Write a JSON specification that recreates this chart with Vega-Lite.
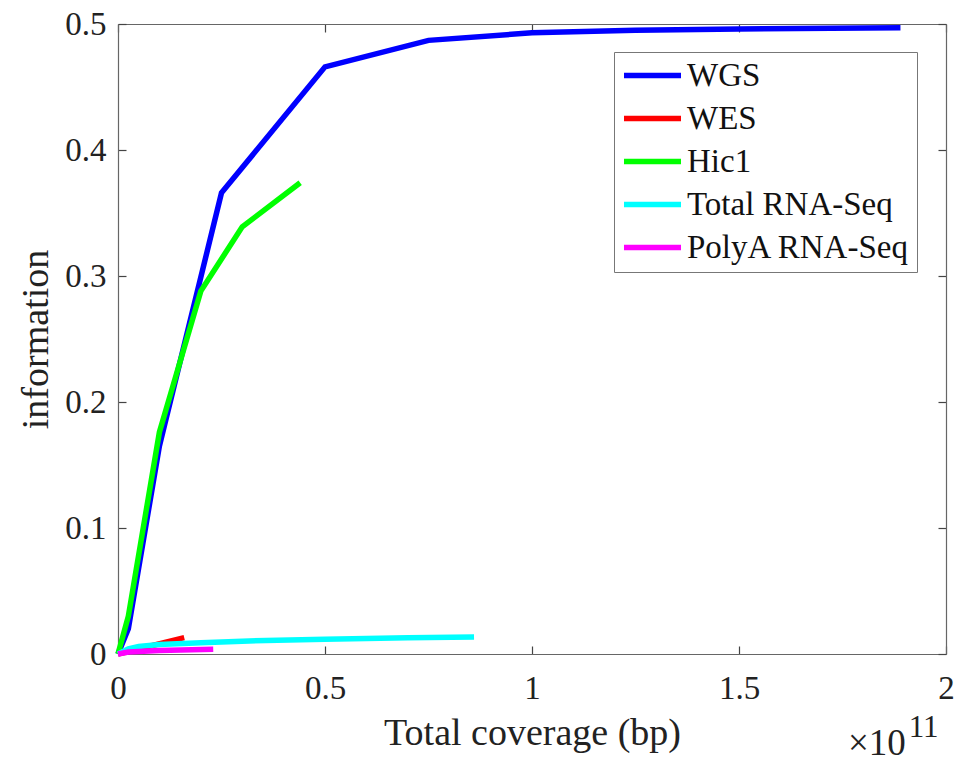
{
  "$schema": "https://vega.github.io/schema/vega-lite/v6.json",
  "width": 828,
  "height": 630,
  "autosize": "none",
  "padding": {"left": 118, "top": 24, "right": 11, "bottom": 109},
  "background": "white",
  "config": {
    "font": "Liberation Serif",
    "view": {"stroke": null},
    "axis": {
      "domainColor": "#666666",
      "domainWidth": 1.2,
      "tickColor": "#444444",
      "tickWidth": 1.2,
      "tickSize": -8,
      "grid": false,
      "labelFont": "Liberation Serif",
      "labelFontSize": 33,
      "labelColor": "#222222",
      "titleFont": "Liberation Serif",
      "titleFontSize": 38,
      "titleFontWeight": "normal",
      "titleColor": "#222222"
    }
  },
  "datasets": {
    "lines": [
      {"series": "WGS", "coverage": 0, "information": 0},
      {"series": "WGS", "coverage": 2500000000, "information": 0.02},
      {"series": "WGS", "coverage": 10000000000, "information": 0.165},
      {"series": "WGS", "coverage": 25000000000, "information": 0.366},
      {"series": "WGS", "coverage": 50000000000, "information": 0.466},
      {"series": "WGS", "coverage": 75000000000, "information": 0.487},
      {"series": "WGS", "coverage": 100000000000, "information": 0.493},
      {"series": "WGS", "coverage": 125000000000, "information": 0.495},
      {"series": "WGS", "coverage": 150000000000, "information": 0.496},
      {"series": "WGS", "coverage": 189000000000, "information": 0.497},
      {"series": "WES", "coverage": 0, "information": 0},
      {"series": "WES", "coverage": 16000000000, "information": 0.013},
      {"series": "Hic1", "coverage": 0, "information": 0},
      {"series": "Hic1", "coverage": 2500000000, "information": 0.03},
      {"series": "Hic1", "coverage": 10000000000, "information": 0.176},
      {"series": "Hic1", "coverage": 20000000000, "information": 0.288},
      {"series": "Hic1", "coverage": 30000000000, "information": 0.339},
      {"series": "Hic1", "coverage": 44000000000, "information": 0.374},
      {"series": "Total RNA-Seq", "coverage": 0, "information": 0},
      {"series": "Total RNA-Seq", "coverage": 2500000000, "information": 0.004},
      {"series": "Total RNA-Seq", "coverage": 5000000000, "information": 0.006},
      {"series": "Total RNA-Seq", "coverage": 10000000000, "information": 0.0075},
      {"series": "Total RNA-Seq", "coverage": 20000000000, "information": 0.009},
      {"series": "Total RNA-Seq", "coverage": 30000000000, "information": 0.0102},
      {"series": "Total RNA-Seq", "coverage": 50000000000, "information": 0.0118},
      {"series": "Total RNA-Seq", "coverage": 70000000000, "information": 0.0128},
      {"series": "Total RNA-Seq", "coverage": 86000000000, "information": 0.0135},
      {"series": "PolyA RNA-Seq", "coverage": 0, "information": 0},
      {"series": "PolyA RNA-Seq", "coverage": 2500000000, "information": 0.0015},
      {"series": "PolyA RNA-Seq", "coverage": 10000000000, "information": 0.0028},
      {"series": "PolyA RNA-Seq", "coverage": 23000000000, "information": 0.0038}
    ],
    "base": [
      {"coverage": 183300000000, "information": -0.0714, "label": "×10"}
    ],
    "exponent": [
      {"coverage": 194600000000, "information": -0.0585, "label": "11"}
    ]
  },
  "layer": [
    {
      "data": {"name": "lines"},
      "mark": {"type": "line", "strokeWidth": 5.5, "strokeCap": "butt", "strokeJoin": "miter"},
      "encoding": {
        "x": {
          "field": "coverage",
          "type": "quantitative",
          "scale": {"domain": [0, 200000000000], "nice": false, "zero": false},
          "axis": {
            "orient": "bottom",
            "title": "Total coverage (bp)",
            "values": [0, 50000000000, 100000000000, 150000000000, 200000000000],
            "labelExpr": "datum.value / 100000000000 + ''",
            "labelPadding": 26,
            "titlePadding": 9,
            "labelFlush": false
          }
        },
        "y": {
          "field": "information",
          "type": "quantitative",
          "scale": {"domain": [0, 0.5], "nice": false, "zero": false},
          "axis": {
            "orient": "left",
            "title": "information",
            "values": [0, 0.1, 0.2, 0.3, 0.4, 0.5],
            "format": "~g",
            "labelPadding": 20,
            "titlePadding": 9,
            "labelFlush": false
          }
        },
        "color": {
          "field": "series",
          "type": "nominal",
          "scale": {
            "domain": ["WGS", "WES", "Hic1", "Total RNA-Seq", "PolyA RNA-Seq"],
            "range": ["#0000ff", "#ff0000", "#00ff00", "#00ffff", "#ff00ff"]
          },
          "legend": {
            "title": null,
            "orient": "none",
            "legendX": 496,
            "legendY": 28,
            "strokeColor": "#777777",
            "fillColor": "white",
            "padding": 7,
            "symbolType": "stroke",
            "symbolStrokeWidth": 5.5,
            "symbolSize": 3249,
            "clipHeight": 33,
            "labelFont": "Liberation Serif",
            "labelFontSize": 33,
            "labelLimit": 400,
            "labelColor": "#111111",
            "labelOffset": 3,
            "rowPadding": 9
          }
        }
      }
    },
    {
      "data": {"name": "lines"},
      "mark": {"type": "line", "opacity": 0},
      "encoding": {
        "x": {
          "field": "coverage",
          "type": "quantitative",
          "scale": {"domain": [0, 200000000000], "nice": false, "zero": false},
          "axis": {"orient": "top", "title": null, "labels": false, "values": [0, 50000000000, 100000000000, 150000000000, 200000000000]}
        },
        "y": {
          "field": "information",
          "type": "quantitative",
          "scale": {"domain": [0, 0.5], "nice": false, "zero": false},
          "axis": {"orient": "right", "title": null, "labels": false, "values": [0, 0.1, 0.2, 0.3, 0.4, 0.5]}
        }
      }
    },
    {
      "data": {"name": "base"},
      "mark": {"type": "text", "font": "Liberation Serif", "fontSize": 37, "color": "#222222", "baseline": "middle", "align": "center"},
      "encoding": {
        "x": {"field": "coverage", "type": "quantitative", "scale": {"domain": [0, 200000000000], "nice": false, "zero": false}, "axis": null},
        "y": {"field": "information", "type": "quantitative", "scale": {"domain": [0, 0.5], "nice": false, "zero": false}, "axis": null},
        "text": {"field": "label"}
      }
    },
    {
      "data": {"name": "exponent"},
      "mark": {"type": "text", "font": "Liberation Serif", "fontSize": 31, "color": "#222222", "baseline": "middle", "align": "center"},
      "encoding": {
        "x": {"field": "coverage", "type": "quantitative", "scale": {"domain": [0, 200000000000], "nice": false, "zero": false}, "axis": null},
        "y": {"field": "information", "type": "quantitative", "scale": {"domain": [0, 0.5], "nice": false, "zero": false}, "axis": null},
        "text": {"field": "label"}
      }
    }
  ],
  "resolve": {"axis": {"x": "independent", "y": "independent"}}
}
